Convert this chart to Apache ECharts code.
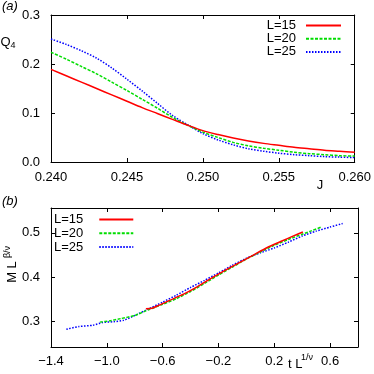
<!DOCTYPE html>
<html>
<head>
<meta charset="utf-8">
<script src="https://cdn.jsdelivr.net/npm/echarts@6/dist/echarts.min.js"></script>
<style>
html, body { margin: 0; padding: 0; background: #fff; }
#chart { width: 374px; height: 374px; }
</style>
</head>
<body>
<div id="chart"></div>
<script>
const seriesNames = ['L=15', 'L=20', 'L=25'];

// panel (a): Q4 against J
const couplings = [0.240, 0.241, 0.242, 0.243, 0.244, 0.245, 0.246, 0.247, 0.248, 0.249, 0.250,
  0.251, 0.252, 0.253, 0.254, 0.255, 0.256, 0.257, 0.258, 0.259, 0.260];
const q4L15 = [0.189, 0.176, 0.163, 0.150, 0.137, 0.124, 0.111, 0.099, 0.087, 0.075, 0.064,
  0.056, 0.049, 0.043, 0.038, 0.034, 0.030, 0.027, 0.024, 0.022, 0.020];
const q4L20 = [0.224, 0.210, 0.195, 0.180, 0.163, 0.146, 0.128, 0.110, 0.091, 0.075, 0.061,
  0.050, 0.040, 0.033, 0.028, 0.024, 0.020, 0.017, 0.015, 0.013, 0.012];
const q4L25 = [0.251, 0.240, 0.227, 0.212, 0.192, 0.169, 0.145, 0.120, 0.095, 0.076, 0.058,
  0.045, 0.035, 0.027, 0.022, 0.018, 0.015, 0.013, 0.011, 0.010, 0.009];

// panel (b): scaled magnetization against scaled temperature
const tL15 = [-0.72, -0.67, -0.62, -0.55, -0.45, -0.35, -0.25, -0.15, -0.05, 0.05, 0.15, 0.25, 0.33, 0.405];
const mL15 = [0.329, 0.331, 0.338, 0.348, 0.362, 0.379, 0.398, 0.416, 0.433, 0.450, 0.467, 0.481, 0.492, 0.502];
const tL20 = [-1.05, -0.98, -0.9, -0.8, -0.7, -0.6, -0.5, -0.4, -0.3, -0.2, -0.1, 0.0, 0.1, 0.2, 0.3, 0.4, 0.47, 0.536];
const mL20 = [0.299, 0.302, 0.307, 0.314, 0.327, 0.339, 0.352, 0.368, 0.386, 0.405, 0.423, 0.441, 0.457, 0.472, 0.485, 0.497, 0.505, 0.513];
const tL25 = [-1.29, -1.2, -1.1, -1.03, -0.95, -0.88, -0.8, -0.7, -0.6, -0.5, -0.4, -0.3, -0.2, -0.1, 0.0,
  0.1, 0.2, 0.3, 0.4, 0.5, 0.6, 0.69];
const mL25 = [0.283, 0.289, 0.292, 0.298, 0.300, 0.303, 0.314, 0.329, 0.344, 0.360, 0.377, 0.393, 0.410, 0.427, 0.443,
  0.455, 0.466, 0.479, 0.493, 0.504, 0.513, 0.521];

const xTicksB = [-1.4, -1.0, -0.6, -0.2, 0.2, 0.6];
const yTicksB = [0.3, 0.4, 0.5];

const FONT = 'Liberation Sans, Arial, sans-serif';
const lineStyles = [
  { color: '#ff0000', width: 1.5, type: 'solid' },
  { color: '#00dd00', width: 1.5, type: [3, 1.5] },
  { color: '#0000ff', width: 1.5, type: [1.5, 1.5] }
];

function pairs(xs, ys) {
  return xs.map((x, i) => [x, ys[i]]);
}

function axis(extra, withLabels) {
  return Object.assign({
    type: 'value',
    axisLine: { show: true, onZero: false, lineStyle: { color: '#000', width: 1 } },
    axisTick: { show: true, inside: true, length: 4, lineStyle: { color: '#000' } },
    splitLine: { show: false },
    axisLabel: { show: withLabels, color: '#000', fontSize: 13, fontFamily: FONT }
  }, extra);
}

function signed(v) {
  return (v < 0 ? '\u2212' : '') + Math.abs(v).toFixed(1);
}

const labelA = { show: true, color: '#000', fontSize: 13, fontFamily: FONT, margin: 9 };
const labelAy = Object.assign({}, labelA, { margin: 11, formatter: v => v.toFixed(1) });
const tickB = (vals) => ({ show: true, inside: true, length: 4, lineStyle: { color: '#000' }, customValues: vals });

const xAxes = [
  axis({ gridIndex: 0, position: 'bottom', min: 0.24, max: 0.26, interval: 0.005,
    axisLabel: Object.assign({}, labelA, { formatter: v => v.toFixed(3) }) }, true),
  axis({ gridIndex: 0, position: 'top', min: 0.24, max: 0.26, interval: 0.005 }, false),
  axis({ gridIndex: 1, position: 'bottom', min: -1.4, max: 0.8, axisTick: tickB(xTicksB),
    axisLabel: Object.assign({}, labelA, { margin: 8, customValues: xTicksB, formatter: signed }) }, true),
  axis({ gridIndex: 1, position: 'top', min: -1.4, max: 0.8, axisTick: tickB(xTicksB),
    axisLabel: { show: false } }, false)
];
const yAxes = [
  axis({ gridIndex: 0, position: 'left', min: 0, max: 0.3, interval: 0.1, axisLabel: labelAy }, true),
  axis({ gridIndex: 0, position: 'right', min: 0, max: 0.3, interval: 0.1 }, false),
  axis({ gridIndex: 1, position: 'left', min: 0.243, max: 0.556, axisTick: tickB(yTicksB),
    axisLabel: Object.assign({}, labelAy, { customValues: yTicksB }) }, true),
  axis({ gridIndex: 1, position: 'right', min: 0.243, max: 0.556, axisTick: tickB(yTicksB),
    axisLabel: { show: false } }, false)
];

const panelA = [q4L15, q4L20, q4L25];
const panelB = [[tL15, mL15], [tL20, mL20], [tL25, mL25]];
const series = [];
seriesNames.forEach((name, i) => {
  series.push({
    name: name, type: 'line', xAxisIndex: 0, yAxisIndex: 0, symbol: 'none', smooth: 0.3,
    lineStyle: lineStyles[i], itemStyle: { color: lineStyles[i].color }, z: 3 - i,
    data: pairs(couplings, panelA[i])
  });
});
seriesNames.forEach((name, i) => {
  series.push({
    name: name, type: 'line', xAxisIndex: 2, yAxisIndex: 2, symbol: 'none', smooth: 0.2,
    lineStyle: lineStyles[i], itemStyle: { color: lineStyles[i].color }, z: 3 - i,
    data: pairs(panelB[i][0], panelB[i][1])
  });
});

const legendText = { color: '#000', fontSize: 13, fontFamily: FONT, lineHeight: 13 };
// hide the circle marker that line legends draw by default
const noMarker = { color: 'transparent', borderWidth: 0, opacity: 0 };

function txt(x, y, text, size, extra) {
  return {
    type: 'text', x: x, y: y, rotation: (extra && extra.rotation) || 0,
    style: Object.assign({
      text: text, fill: '#000', font: (extra && extra.font) || (size + 'px ' + FONT),
      align: 'left', verticalAlign: 'middle', textAlign: 'left', textVerticalAlign: 'middle'
    }, extra && extra.style)
  };
}

const chart = echarts.init(document.getElementById('chart'));
chart.setOption({
  animation: false,
  backgroundColor: '#fff',
  grid: [
    { left: 51, right: 16, top: 15, height: 147 },
    { left: 51, right: 16, top: 208, height: 139 }
  ],
  xAxis: xAxes,
  yAxis: yAxes,
  legend: [
    { data: seriesNames, orient: 'vertical', right: 32, top: 19, align: 'right', padding: 0,
      itemWidth: 35, itemHeight: 13, itemGap: 0.2, selectedMode: false, itemStyle: noMarker,
      textStyle: Object.assign({ padding: [0, 5, 0, 0] }, legendText) },
    { data: seriesNames, orient: 'vertical', left: 54, top: 213, align: 'right', padding: 0,
      itemWidth: 34, itemHeight: 13, itemGap: 0.8, selectedMode: false, itemStyle: noMarker,
      textStyle: Object.assign({ padding: [0, 11, 0, 0] }, legendText) }
  ],
  graphic: [
    txt(2, 6, '(a)', 13, { font: 'italic 13px ' + FONT }),
    txt(0.5, 42, 'Q', 13),
    txt(10.5, 45.5, '4', 9),
    txt(320, 185, 'J', 13, { style: { align: 'center', textAlign: 'center' } }),
    txt(2, 201, '(b)', 13, { font: 'italic 13px ' + FONT }),
    txt(12, 272, 'M L', 13, { rotation: Math.PI / 2, style: { align: 'center', textAlign: 'center' } }),
    txt(7.5, 252, '\u03b2/\u03bd', 9, { rotation: Math.PI / 2, style: { align: 'center', textAlign: 'center' } }),
    txt(288, 364, 't L', 13),
    txt(301, 358, '1/\u03bd', 9)
  ],
  series: series
});
</script>
</body>
</html>
